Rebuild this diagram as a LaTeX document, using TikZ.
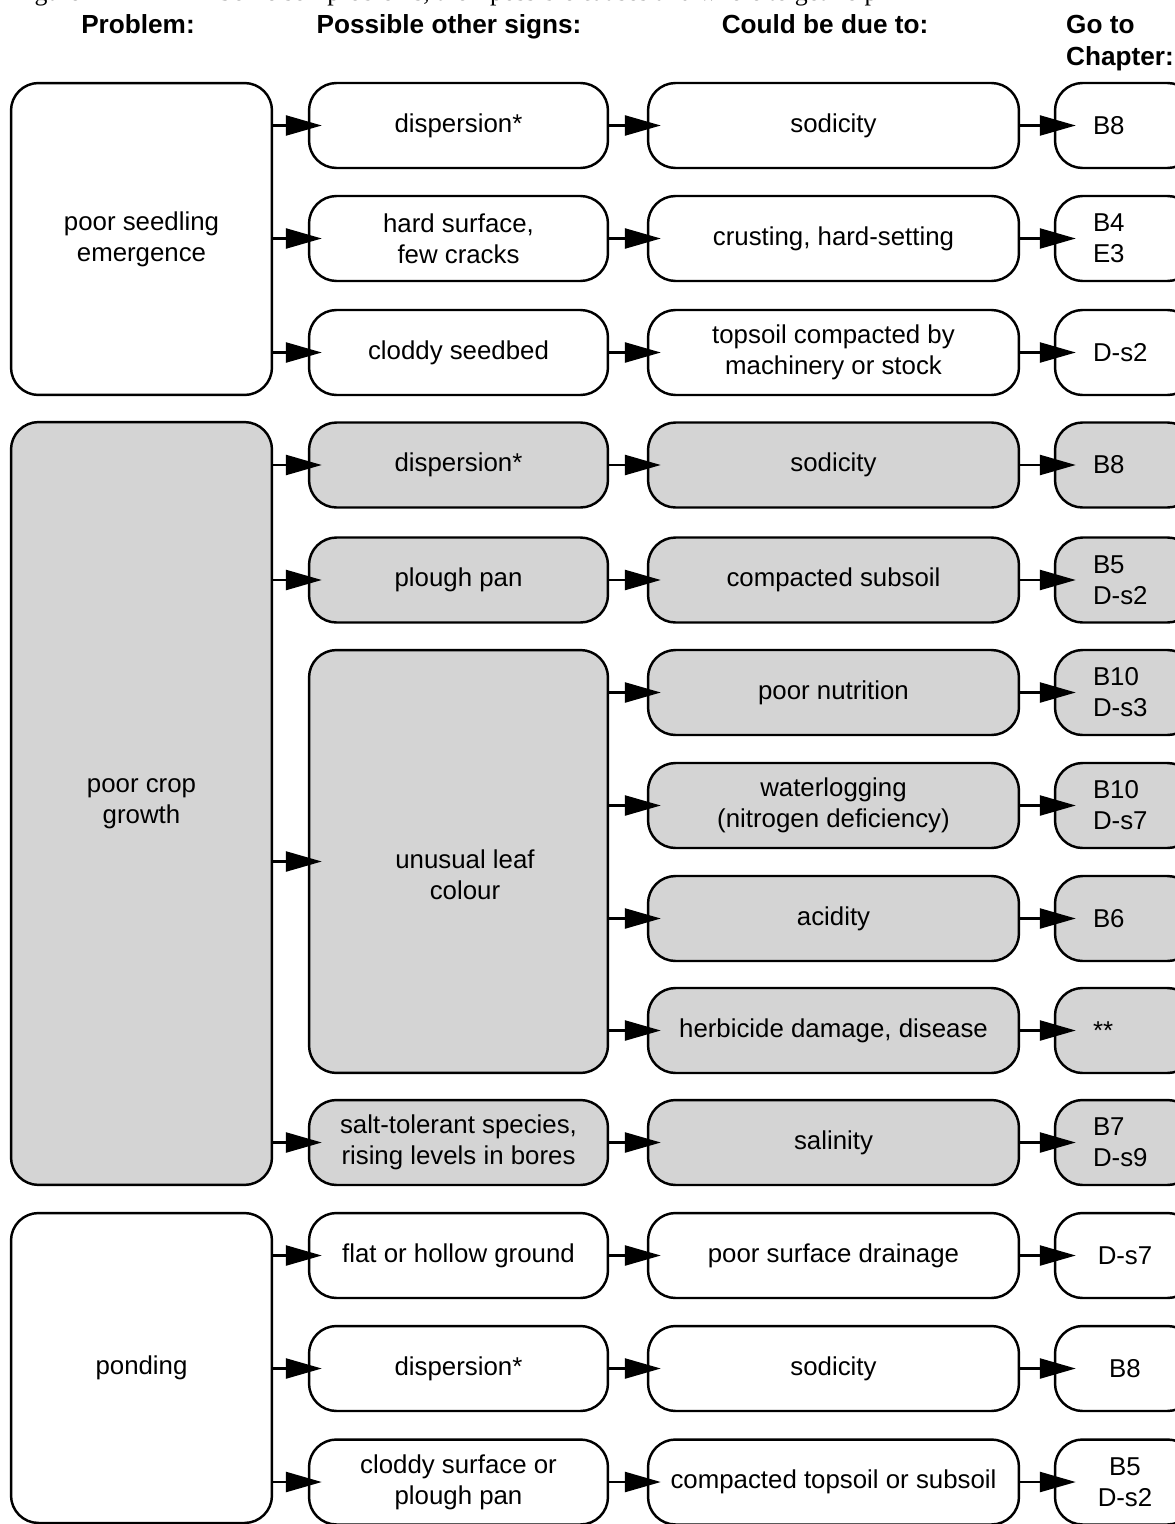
\documentclass[tikz,border=0pt]{standalone}
\usepackage{fontspec}
\setmainfont{Liberation Serif}
\setsansfont{Liberation Sans}
\usetikzlibrary{arrows.meta}

\begin{document}
\begin{tikzpicture}[x=0.02cm,y=-0.02cm,
  font=\sffamily\fontsize{14.7}{17.6}\selectfont,
  box/.style={draw,line width=1.4pt,rounded corners=0.55cm,minimum height=1.7cm,align=center,inner sep=2pt},
  prob/.style={box,minimum width=5.22cm},
  sign/.style={box,minimum width=5.98cm},
  cause/.style={box,minimum width=7.42cm},
  chap/.style={box,minimum width=2.8cm,text width=1.28cm,inner xsep=0.76cm,align=left},
  chapc/.style={chap,align=center},
  grey/.style={fill=black!17},
  head/.style={anchor=base,font=\sffamily\bfseries\fontsize{14.9}{17.6}\selectfont},
  arr/.style={line width=1.4pt,-{Triangle[length=0.72cm,width=0.4cm]},shorten >=-0.28cm},
  arrg/.style={arr,shorten >=-0.44cm}]
\useasboundingbox (0,0) rectangle (1175,1524);

% caption line, cut off at the top
\node[anchor=base west,font=\rmfamily\fontsize{14.7}{17.6}\selectfont] (capfig) at (7,1) {Figure};
\node[anchor=base west,font=\rmfamily\fontsize{14.7}{17.6}\selectfont] (captxt) at (212,1) {Some soil problems, their possible causes and where to get help};

% column heads
\node[head] (hprob) at (138,33.5) {Problem:};
\node[head] (hsign) at (449,33.5) {Possible other signs:};
\node[head] (hcause) at (825,33.5) {Could be due to:};
\node[head,anchor=base west] (hgo) at (1060,33.5) {Go to};
\node[head,anchor=base west] (hchap) at (1060,65.5) {Chapter:};

% poor seedling emergence
\node[prob,minimum height=6.24cm] (pse) at (141.5,239) {poor seedling\\emergence};
\node[sign] (s1) at (458.5,125.5) {dispersion*};
\node[sign] (s2) at (458.5,238.5) {hard surface,\\few cracks};
\node[sign] (s3) at (458.5,352.5) {cloddy seedbed};
\node[cause] (c1) at (833.5,125.5) {sodicity};
\node[cause] (c2) at (833.5,238.5) {crusting, hard-setting};
\node[cause] (c3) at (833.5,352.5) {topsoil compacted by\\machinery or stock};
\node[chap] (g1) at (1125,125.5) {B8};
\node[chap] (g2) at (1125,238.5) {B4\\E3};
\node[chap] (g3) at (1125,352.5) {D-s2};

% poor crop growth
\node[prob,grey,minimum height=15.26cm] (pcg) at (141.5,803.5) {poor crop\\growth};
\node[sign,grey] (s4) at (458.5,465) {dispersion*};
\node[sign,grey] (s5) at (458.5,580) {plough pan};
\node[sign,grey,minimum height=8.46cm] (s6) at (458.5,861.5) {};
\node[align=center] (s6txt) at (465,875) {unusual leaf\\colour};
\node[sign,grey] (s7) at (458.5,1142.5) {salt-tolerant species,\\rising levels in bores};
\node[cause,grey] (c4) at (833.5,465) {sodicity};
\node[cause,grey] (c5) at (833.5,580) {compacted subsoil};
\node[cause,grey] (c6) at (833.5,692.5) {poor nutrition};
\node[cause,grey] (c7) at (833.5,805.5) {waterlogging\\(nitrogen deficiency)};
\node[cause,grey] (c8) at (833.5,918.5) {acidity};
\node[cause,grey] (c9) at (833.5,1030.5) {herbicide damage, disease};
\node[cause,grey] (c10) at (833.5,1142.5) {salinity};
\node[chap,grey] (g4) at (1125,465) {B8};
\node[chap,grey] (g5) at (1125,580) {B5\\D-s2};
\node[chap,grey] (g6) at (1125,692.5) {B10\\D-s3};
\node[chap,grey] (g7) at (1125,805.5) {B10\\D-s7};
\node[chap,grey] (g8) at (1125,918.5) {B6};
\node[chap,grey] (g9) at (1125,1030.5) {**};
\node[chap,grey] (g10) at (1125,1142.5) {B7\\D-s9};

% ponding
\node[prob,minimum height=6.2cm] (pon) at (141.5,1368) {ponding};
\node[sign] (s8) at (458.5,1255.5) {flat or hollow ground};
\node[sign] (s9) at (458.5,1368.5) {dispersion*};
\node[sign] (s10) at (458.5,1482) {cloddy surface or\\plough pan};
\node[cause] (c11) at (833.5,1255.5) {poor surface drainage};
\node[cause] (c12) at (833.5,1368.5) {sodicity};
\node[cause] (c13) at (833.5,1482) {compacted topsoil or subsoil};
\node[chapc] (g11) at (1125,1255.5) {D-s7};
\node[chapc] (g12) at (1125,1368.5) {B8};
\node[chapc] (g13) at (1125,1482) {B5\\D-s2};

% problem -> signs
\draw[arr] (pse.east |- s1) -- (s1);
\draw[arr] (pse.east |- s2) -- (s2);
\draw[arr] (pse.east |- s3) -- (s3);
\draw[arr] (pcg.east |- s4) -- (s4);
\draw[arr] (pcg.east |- s5) -- (s5);
\draw[arr] (pcg.east |- s6) -- (s6);
\draw[arr] (pcg.east |- s7) -- (s7);
\draw[arr] (pon.east |- s8) -- (s8);
\draw[arr] (pon.east |- s9) -- (s9);
\draw[arr] (pon.east |- s10) -- (s10);

% signs -> causes
\draw[arr] (s1) -- (c1);
\draw[arr] (s2) -- (c2);
\draw[arr] (s3) -- (c3);
\draw[arr] (s4) -- (c4);
\draw[arr] (s5) -- (c5);
\draw[arr] (s6.east |- c6) -- (c6);
\draw[arr] (s6.east |- c7) -- (c7);
\draw[arr] (s6.east |- c8) -- (c8);
\draw[arr] (s6.east |- c9) -- (c9);
\draw[arr] (s7) -- (c10);
\draw[arr] (s8) -- (c11);
\draw[arr] (s9) -- (c12);
\draw[arr] (s10) -- (c13);

% causes -> chapters
\draw[arrg] (c1) -- (g1);
\draw[arrg] (c2) -- (g2);
\draw[arrg] (c3) -- (g3);
\draw[arrg] (c4) -- (g4);
\draw[arrg] (c5) -- (g5);
\draw[arrg] (c6) -- (g6);
\draw[arrg] (c7) -- (g7);
\draw[arrg] (c8) -- (g8);
\draw[arrg] (c9) -- (g9);
\draw[arrg] (c10) -- (g10);
\draw[arrg] (c11) -- (g11);
\draw[arrg] (c12) -- (g12);
\draw[arrg] (c13) -- (g13);
\end{tikzpicture}
\end{document}
